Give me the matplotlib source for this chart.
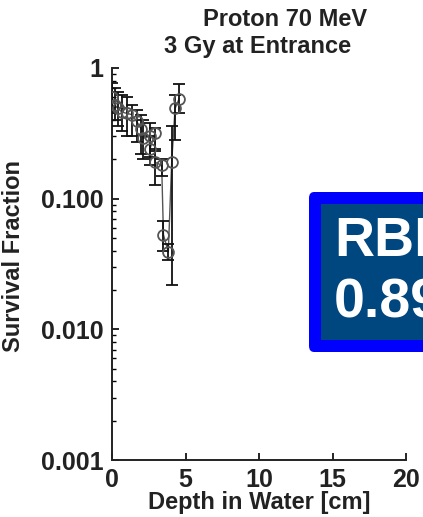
import matplotlib
matplotlib.use("Agg")
import matplotlib.pyplot as plt
from matplotlib.patches import FancyBboxPatch, Rectangle
import numpy as np

plt.rcParams['font.family'] = ['Liberation Sans', 'DejaVu Sans']

depth = [0.0, 0.2, 0.43, 0.66, 1.0, 1.34, 1.68, 2.0, 2.13, 2.58, 2.93, 2.58, 2.93, 3.38, 3.5, 3.83, 4.06, 4.29, 4.56]
surv = [0.60, 0.52, 0.49, 0.46, 0.45, 0.44, 0.39, 0.34, 0.29, 0.30, 0.32, 0.24, 0.19, 0.18, 0.053, 0.039, 0.19, 0.49, 0.58]
surv_lo = [0.45, 0.40, 0.36, 0.33, 0.30, 0.30, 0.27, 0.22, 0.20, 0.21, 0.23, 0.18, 0.127, 0.15, 0.040, 0.034, 0.022, 0.28, 0.45]
surv_hi = [0.77, 0.70, 0.66, 0.62, 0.60, 0.52, 0.48, 0.44, 0.40, 0.38, 0.35, 0.30, 0.24, 0.20, 0.067, 0.045, 0.36, 0.62, 0.76]

xticks = [0, 5, 10, 15, 20]
yticks = [1, 0.1, 0.01, 0.001]
yticklabels = ["1", "0.100", "0.010", "0.001"]

TXT = "#222222"
fig = plt.figure(figsize=(4.23, 5.17), dpi=100)
ax = fig.add_axes([112/423, 1-460/517, (406-112)/423, (460-68)/517])

order = np.argsort(depth, kind="stable")
xs = np.array(depth)[order]
ys = np.array(surv)[order]
lo = np.array(surv_lo)[order]
hi = np.array(surv_hi)[order]

ax.plot(xs, ys, color="#555555", lw=1.0, zorder=2)
ax.errorbar(xs, ys, yerr=[ys - lo, hi - ys], fmt="none", ecolor="#111111",
            elinewidth=1.3, capsize=4, capthick=1.3, zorder=3)
ax.plot(xs, ys, "o", ms=7.8, mfc="none", mec="#555555", mew=1.3, zorder=4)

ax.set_yscale("log")
ax.set_xlim(0, 20)
ax.set_ylim(0.001, 1)
ax.set_xticks(xticks)
ax.set_xticklabels([str(t) for t in xticks], fontsize=18, fontweight="bold", color=TXT)
ax.set_yticks(yticks)
ax.set_yticklabels(yticklabels, fontsize=18, fontweight="bold", color=TXT)
ax.tick_params(axis="x", which="major", direction="in", length=5, width=1.2, pad=6)
ax.tick_params(axis="y", which="major", direction="in", length=5, width=1.2, pad=6)
ax.tick_params(axis="y", which="minor", direction="in", length=3, width=1.0)
ax.spines["top"].set_visible(False)
ax.spines["right"].set_visible(False)
for s in ["left", "bottom"]:
    ax.spines[s].set_linewidth(1.4)
    ax.spines[s].set_color(TXT)

ax.set_xlabel("Depth in Water [cm]", fontsize=17, fontweight="bold", color=TXT, labelpad=-1)
ax.set_ylabel("Survival Fraction", fontsize=17, fontweight="bold", color=TXT)
ax.yaxis.set_label_coords(-0.296, 0.52)

fig.text(285/423, 1-20/517, "Proton 70 MeV", ha="center", va="center",
         fontsize=17, fontweight="bold", color=TXT)
fig.text(258/423, 1-47/517, "3 Gy at Entrance", ha="center", va="center",
         fontsize=17, fontweight="bold", color=TXT)

# RBE box (clipped by the figure edge)
W, H = 423, 517
outer = FancyBboxPatch((309/W, 1-352/H), 150/W, 160/H,
                       boxstyle="round,pad=0,rounding_size=0.012",
                       transform=fig.transFigure, facecolor="#0000FF",
                       edgecolor="none", zorder=5)
fig.patches.append(outer)
inner = Rectangle((321/W, 1-340/H), 140/W, 136/H, transform=fig.transFigure,
                  facecolor="#00467F", edgecolor="none", zorder=6)
fig.patches.append(inner)
fig.text(334/W, 1-242/H, "RBE", ha="left", va="center", fontsize=40,
         fontweight="bold", color="white", zorder=7)
fig.text(334/W, 1-304/H, "0.89", ha="left", va="center", fontsize=40,
         fontweight="bold", color="white", zorder=7)

fig.savefig("out.png", dpi=100)
